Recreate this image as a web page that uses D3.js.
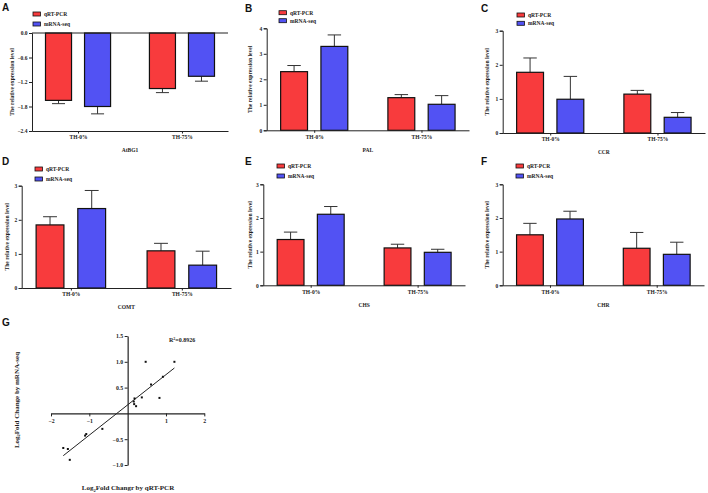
<!DOCTYPE html>
<html><head><meta charset="utf-8">
<script src="https://cdn.jsdelivr.net/npm/d3@7"></script>
<style>body{margin:0;background:#fff}svg{display:block}</style>
</head><body><svg id="c" width="708" height="493"></svg>
<script>
// ---------- data ----------
const genes = ["AtBG1","PAL","CCR","COMT","CHS","CHR"];
const groups = ["TH-0%","TH-75%"];
const seriesNames = ["qRT-PCR","mRNA-seq"];
const qrtMeans = [[-1.65,-1.36],[2.30,1.28],[1.78,1.14],[1.85,1.09],[1.36,1.11],[1.50,1.10]];
const qrtErr   = [[0.08,0.10],[0.24,0.12],[0.42,0.11],[0.24,0.22],[0.22,0.11],[0.34,0.47]];
const seqMeans = [[-1.80,-1.06],[3.29,1.02],[0.99,0.46],[2.33,0.67],[2.11,0.98],[1.97,0.92]];
const seqErr   = [[0.18,0.12],[0.45,0.34],[0.67,0.14],[0.53,0.41],[0.23,0.09],[0.23,0.36]];
const yDomains = [[-2.4,0],[0,4],[0,3],[0,3],[0,3],[0,3]];
const yTicksA = [0,-0.6,-1.2,-1.8,-2.4];
const yTicks4 = [0,1,2,3,4];
const yTicks3 = [0,1,2,3];
const panelLetters = ["A","B","C","D","E","F","G"];
const yTitle = "The relative expression level";

const scatterX = [0.47,1.22,0.92,0.61,0.37,0.83,0.18,0.16,0.17,0.22,-0.66,-1.08,-1.11,-1.68,-1.56,-1.51];
const scatterY = [1.00,1.00,0.71,0.56,0.31,0.30,0.29,0.23,0.18,0.14,-0.30,-0.40,-0.43,-0.67,-0.69,-0.90];
const fitSlope = 0.586, fitIntercept = 0.165, fitRange = [-1.68,1.22];
const r2Value = "0.8926";
const scatterXTicks = [-2,-1,1,2];
const scatterYTicks = [-1.0,-0.5,0.5,1.0,1.5];
const scatterXTitle = "Fold Changr by qRT-PCR";
const scatterYTitle = "Fold Change by mRNA-seq";

// ---------- style / layout ----------
const colors = ["#f83b3d","#5252f3"];
const SERIF = "'Liberation Serif','Times New Roman',serif";
const SANS = "'Liberation Sans',Arial,sans-serif";
const layout = [
  {x0:32, x1:228, yt:33, yb:131, lx:12, tx:150, cat:140, legX:33, legY:[14,24], let:[2,10.5], ticks:yTicksA, fmt:d3.format(".1f")},
  {x0:266.7, x1:469, yt:28.3, yb:130.3, lx:250, tx:150, cat:139, legX:279, legY:[12.7,20.7], let:[245,12], ticks:yTicks4, fmt:d3.format("d")},
  {x0:502.7, x1:705, yt:30.7, yb:133, lx:487, tx:152, cat:142, legX:517, legY:[15,23.3], let:[481,12], ticks:yTicks3, fmt:d3.format("d")},
  {x0:21.7, x1:231, yt:185.7, yb:288, lx:6.5, tx:307, cat:298.5, legX:35, legY:[169,179], let:[2,164.5], ticks:yTicks3, fmt:d3.format("d")},
  {x0:263.3, x1:465, yt:184.3, yb:285.3, lx:249.5, tx:304.5, cat:294.5, legX:277, legY:[166,176], let:[245,165], ticks:yTicks3, fmt:d3.format("d")},
  {x0:502.7, x1:704, yt:184.3, yb:285.3, lx:487, tx:304.5, cat:294.5, legX:516, legY:[166,176], let:[481,165], ticks:yTicks3, fmt:d3.format("d")}
];

const svg = d3.select("#c");
svg.append("rect").attr("width",708).attr("height",493).attr("fill","#fff");

genes.forEach((gene,i)=>{
  const L = layout[i];
  const g = svg.append("g");
  const dom = yDomains[i];
  const y = d3.scaleLinear().domain(dom).range([L.yb, L.yt]);
  const w = L.x1 - L.x0;
  const x = d3.scalePoint().domain(groups).range([L.x0, L.x1]).padding(0.443);
  const inner = d3.scaleBand().domain(seriesNames).range([-0.166*w, 0.166*w]).paddingInner(0.333);
  const base = y(0);
  const negative = dom[1] <= 0;

  // bars
  groups.forEach((grp,gi)=>{
    seriesNames.forEach((s,si)=>{
      const v = (si===0?qrtMeans:seqMeans)[i][gi];
      const e = (si===0?qrtErr:seqErr)[i][gi];
      const bx = x(grp) + inner(s);
      const bw = inner.bandwidth();
      const cx = bx + bw/2;
      const end = v + (v<0 ? -e : e);
      // error bar
      g.append("line").attr("x1",cx).attr("x2",cx).attr("y1",y(v)).attr("y2",y(end))
        .attr("stroke","#333").attr("stroke-width",1);
      g.append("line").attr("x1",cx-bw*0.25).attr("x2",cx+bw*0.25).attr("y1",y(end)).attr("y2",y(end))
        .attr("stroke","#333").attr("stroke-width",1);
      g.append("rect").attr("x",bx).attr("width",bw)
        .attr("y",Math.min(y(v),base)).attr("height",Math.abs(y(v)-base))
        .attr("fill",colors[si]).attr("stroke","#111").attr("stroke-width",1.2);
    });
  });

  // y axis
  const ya = g.append("g").attr("transform",`translate(${L.x0},0)`)
    .call(d3.axisLeft(y).tickValues(L.ticks).tickFormat(L.fmt).tickSize(3).tickPadding(1.5));
  ya.select(".domain").attr("stroke","#222").attr("stroke-width",1);
  ya.selectAll(".tick line").attr("stroke","#222");
  ya.selectAll("text").attr("font-family",SERIF).attr("font-weight","bold").attr("font-size",5.5).attr("fill","#222");

  // category axis at bottom
  const xa = g.append("g").attr("transform",`translate(0,${L.yb})`)
    .call(d3.axisBottom(x).tickSize(2.5).tickSizeOuter(0).tickPadding(2));
  xa.select(".domain").attr("stroke","#222").attr("stroke-width",1);
  xa.selectAll(".tick line").attr("stroke","#222");
  xa.selectAll("text").attr("font-family",SERIF).attr("font-weight","bold").attr("font-size",5.5).attr("fill","#222");
  if (negative) {
    g.append("line").attr("x1",L.x0).attr("x2",L.x1).attr("y1",base).attr("y2",base)
      .attr("stroke","#222").attr("stroke-width",1);
  }

  // titles
  g.append("text").attr("x",(L.x0+L.x1)/2).attr("y",L.tx+2).attr("text-anchor","middle")
    .attr("font-family",SERIF).attr("font-weight","bold").attr("font-size",5.5).attr("fill","#222").text(gene);
  g.append("text").attr("transform",`translate(${L.lx+2},${(L.yt+L.yb)/2}) rotate(-90)`).attr("text-anchor","middle")
    .attr("font-family",SERIF).attr("font-weight","bold").attr("font-size",5.6).attr("fill","#222").text(yTitle);

  // legend
  seriesNames.forEach((s,si)=>{
    g.append("rect").attr("x",L.legX).attr("y",L.legY[si]-2).attr("width",7.5).attr("height",4)
      .attr("fill",colors[si]).attr("stroke","#111").attr("stroke-width",0.8);
    g.append("text").attr("x",L.legX+11).attr("y",L.legY[si]+2)
      .attr("font-family",SERIF).attr("font-weight","bold").attr("font-size",5.5).attr("fill","#222").text(s);
  });

  // panel letter
  svg.append("text").attr("x",L.let[0]).attr("y",L.let[1]).attr("font-family",SANS)
    .attr("font-weight","bold").attr("font-size",10).attr("fill","#111").text(panelLetters[i]);
});

// ---------- scatter G ----------
const gs = svg.append("g");
const sx = d3.scaleLinear().domain([-2,2]).range([51,204.3]);
const sy = d3.scaleLinear().domain([-1,1.5]).range([465,336]);
const xAx = gs.append("g").attr("transform",`translate(0,${sy(0)})`)
  .call(d3.axisBottom(sx).tickValues(scatterXTicks).tickFormat(d3.format("d")).tickSize(3).tickSizeOuter(0).tickPadding(2));
const yAx = gs.append("g").attr("transform",`translate(${sx(0)},0)`)
  .call(d3.axisLeft(sy).tickValues(scatterYTicks).tickFormat(d3.format(".1f")).tickSize(3).tickSizeOuter(0).tickPadding(1.5));
[xAx,yAx].forEach(a=>{
  a.select(".domain").attr("stroke","#222").attr("stroke-width",1.2);
  a.selectAll(".tick line").attr("stroke","#222").attr("stroke-width",1);
  a.selectAll("text").attr("font-family",SERIF).attr("font-weight","bold").attr("font-size",5.8).attr("fill","#222");
});
gs.append("line").attr("x1",sx(fitRange[0])).attr("y1",sy(fitSlope*fitRange[0]+fitIntercept))
  .attr("x2",sx(fitRange[1])).attr("y2",sy(fitSlope*fitRange[1]+fitIntercept))
  .attr("stroke","#222").attr("stroke-width",1);
gs.selectAll("rect.pt").data(scatterX.map((v,k)=>[v,scatterY[k]])).enter().append("rect")
  .attr("class","pt").attr("x",d=>sx(d[0])-1).attr("y",d=>sy(d[1])-1).attr("width",2).attr("height",2).attr("fill","#111");

const r2 = gs.append("text").attr("x",169).attr("y",342).attr("font-family",SERIF).attr("font-weight","bold")
  .attr("font-size",6).attr("fill","#222");
r2.append("tspan").text("R");
r2.append("tspan").attr("dy",-2).attr("font-size",4).text("2");
r2.append("tspan").attr("dy",2).text("=" + r2Value);

const xt = gs.append("text").attr("x",128).attr("y",490).attr("text-anchor","middle").attr("font-family",SERIF)
  .attr("font-weight","bold").attr("font-size",7).attr("fill","#222");
xt.append("tspan").text("Log");
xt.append("tspan").attr("dy",1.5).attr("font-size",4.5).text("2");
xt.append("tspan").attr("dy",-1.5).text(scatterXTitle);

const yt = gs.append("text").attr("transform","translate(18.5,400) rotate(-90)").attr("text-anchor","middle").attr("font-family",SERIF)
  .attr("font-weight","bold").attr("font-size",7).attr("fill","#222");
yt.append("tspan").text("Log");
yt.append("tspan").attr("dy",1.5).attr("font-size",4.5).text("2");
yt.append("tspan").attr("dy",-1.5).text(scatterYTitle);

svg.append("text").attr("x",2).attr("y",325.5).attr("font-family",SANS)
  .attr("font-weight","bold").attr("font-size",10).attr("fill","#111").text(panelLetters[6]);
</script></body></html>
